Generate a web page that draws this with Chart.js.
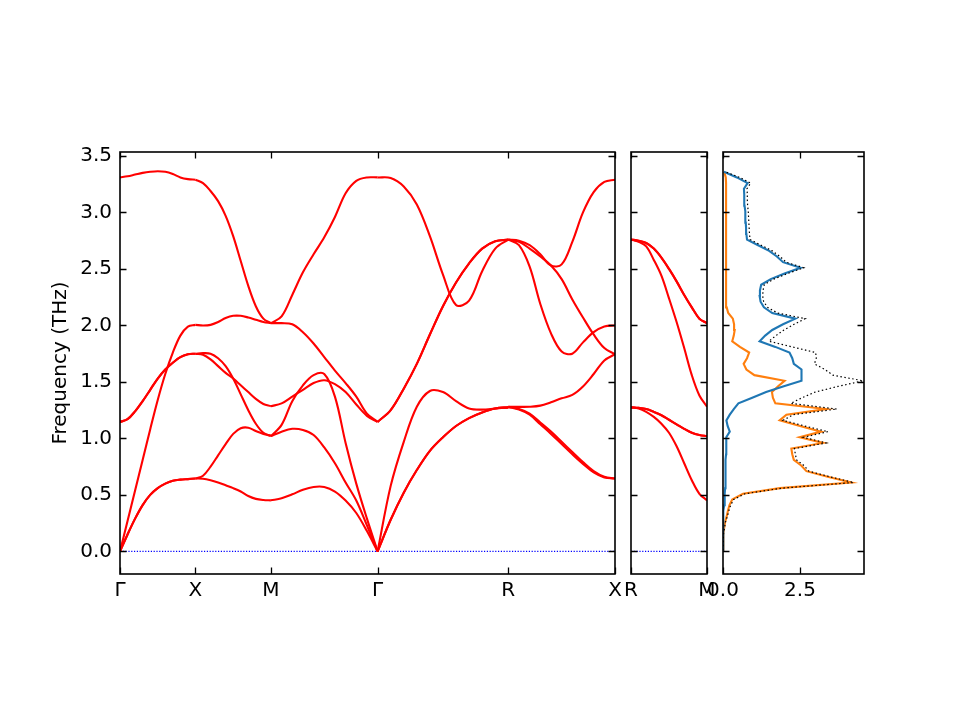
<!DOCTYPE html>
<html>
<head>
<meta charset="utf-8">
<script src="https://cdn.jsdelivr.net/npm/chart.js@4.4.1/dist/chart.umd.min.js"></script>
<style>
  html, body { margin: 0; padding: 0; background: #fff; }
  #wrap { position: relative; width: 960px; height: 720px; }
  #wrap canvas { position: absolute; left: 0; top: 0; }
</style>
</head>
<body>
<div id="wrap">
  <canvas id="bands" width="960" height="720"></canvas>
  <canvas id="bandsRM" width="960" height="720"></canvas>
  <canvas id="dos" width="960" height="720"></canvas>
</div>
<script>
// high-symmetry path and ticks
const kLabels = ["Γ", "X", "M", "Γ", "R", "X"];
const kPos = [0, 1, 2, 3.414, 5.146, 6.560];
const rmLabels = ["R", "M"];
const rmPos = [0, 1];
const freqTicks = [0, 0.5, 1, 1.5, 2, 2.5, 3, 3.5];
const dosTicks = [0, 2.5];
const dosTickLabels = ["0.0", "2.5"];

// fraction along each segment
const t = [0, 0.1, 0.2, 0.3, 0.4, 0.5, 0.6, 0.7, 0.8, 0.9, 1];

// band frequencies (THz) per segment
const bandsGX = [
  [0, 0.15, 0.29, 0.41, 0.50, 0.56, 0.60, 0.625, 0.635, 0.64, 0.645],
  [0, 0.15, 0.29, 0.41, 0.50, 0.56, 0.60, 0.625, 0.635, 0.64, 0.645],
  [0, 0.27, 0.54, 0.81, 1.08, 1.34, 1.57, 1.76, 1.91, 1.99, 2.005],
  [1.146, 1.17, 1.24, 1.33, 1.43, 1.53, 1.61, 1.67, 1.72, 1.745, 1.75],
  [1.146, 1.17, 1.24, 1.33, 1.43, 1.53, 1.61, 1.67, 1.72, 1.745, 1.75],
  [3.31, 3.32, 3.335, 3.35, 3.36, 3.365, 3.36, 3.34, 3.31, 3.295, 3.29]
];
const bandsXM = [
  [0.645, 0.643, 0.63, 0.61, 0.585, 0.56, 0.53, 0.49, 0.465, 0.455, 0.452],
  [0.645, 0.67, 0.75, 0.85, 0.95, 1.04, 1.09, 1.095, 1.065, 1.04, 1.025],
  [1.75, 1.755, 1.75, 1.71, 1.64, 1.53, 1.39, 1.25, 1.13, 1.05, 1.02],
  [1.75, 1.74, 1.70, 1.64, 1.58, 1.53, 1.47, 1.41, 1.35, 1.305, 1.285],
  [2.005, 2.0, 2.005, 2.03, 2.065, 2.085, 2.085, 2.07, 2.05, 2.03, 2.02],
  [3.29, 3.26, 3.19, 3.10, 2.97, 2.79, 2.57, 2.35, 2.17, 2.06, 2.02]
];
const bandsMG = [
  [0.452, 0.47, 0.505, 0.545, 0.57, 0.57, 0.53, 0.45, 0.34, 0.18, 0],
  [1.02, 1.06, 1.085, 1.075, 1.03, 0.92, 0.78, 0.61, 0.45, 0.23, 0],
  [1.02, 1.12, 1.33, 1.47, 1.56, 1.57, 1.37, 0.96, 0.60, 0.29, 0],
  [1.285, 1.31, 1.37, 1.43, 1.49, 1.515, 1.48, 1.41, 1.30, 1.20, 1.146],
  [2.02, 2.02, 2.01, 1.94, 1.84, 1.72, 1.60, 1.49, 1.37, 1.22, 1.146],
  [2.02, 2.08, 2.27, 2.47, 2.63, 2.78, 2.96, 3.17, 3.28, 3.31, 3.31]
];
const bandsGR = [
  [0, 0.28, 0.52, 0.72, 0.89, 1.01, 1.11, 1.18, 1.23, 1.265, 1.275],
  [0, 0.28, 0.52, 0.72, 0.89, 1.01, 1.11, 1.18, 1.23, 1.265, 1.275],
  [0, 0.58, 0.97, 1.28, 1.42, 1.41, 1.33, 1.265, 1.255, 1.265, 1.275],
  [1.146, 1.25, 1.44, 1.66, 1.92, 2.17, 2.38, 2.55, 2.68, 2.745, 2.76],
  [1.146, 1.25, 1.44, 1.66, 1.92, 2.17, 2.38, 2.55, 2.68, 2.745, 2.76],
  [3.31, 3.305, 3.23, 3.07, 2.79, 2.45, 2.18, 2.22, 2.48, 2.68, 2.76]
];
const bandsRX = [
  [1.279, 1.26, 1.22, 1.14, 1.06, 0.97, 0.88, 0.79, 0.71, 0.66, 0.645],
  [1.279, 1.255, 1.21, 1.125, 1.04, 0.95, 0.86, 0.775, 0.70, 0.655, 0.645],
  [1.279, 1.279, 1.28, 1.29, 1.32, 1.355, 1.385, 1.46, 1.57, 1.69, 1.745],
  [2.76, 2.71, 2.52, 2.19, 1.93, 1.77, 1.75, 1.85, 1.94, 1.99, 2.00],
  [2.76, 2.74, 2.68, 2.61, 2.53, 2.41, 2.23, 2.07, 1.92, 1.80, 1.745],
  [2.76, 2.75, 2.71, 2.63, 2.53, 2.54, 2.74, 3.00, 3.18, 3.27, 3.29]
];
const bandsRM = [
  [2.76, 2.75, 2.73, 2.68, 2.60, 2.50, 2.39, 2.27, 2.16, 2.06, 2.02],
  [2.76, 2.75, 2.73, 2.68, 2.60, 2.50, 2.39, 2.27, 2.16, 2.06, 2.02],
  [2.76, 2.74, 2.70, 2.58, 2.44, 2.24, 2.03, 1.80, 1.56, 1.38, 1.28],
  [1.275, 1.27, 1.26, 1.235, 1.205, 1.165, 1.125, 1.085, 1.05, 1.03, 1.02],
  [1.275, 1.27, 1.26, 1.235, 1.205, 1.165, 1.125, 1.085, 1.05, 1.03, 1.02],
  [1.275, 1.265, 1.235, 1.19, 1.13, 1.05, 0.93, 0.78, 0.63, 0.51, 0.452]
];

// density of states
const dosFreq = [
  0.01, 0.06, 0.11, 0.16, 0.21, 0.26, 0.31, 0.36, 0.41, 0.46,
  0.51, 0.56, 0.61, 0.66, 0.71, 0.76, 0.81, 0.86, 0.91, 0.96,
  1.01, 1.06, 1.11, 1.16, 1.21, 1.26, 1.31, 1.36, 1.41, 1.46,
  1.51, 1.56, 1.61, 1.66, 1.71, 1.76, 1.81, 1.86, 1.91, 1.96,
  2.01, 2.06, 2.11, 2.16, 2.21, 2.26, 2.31, 2.36, 2.41, 2.46,
  2.51, 2.56, 2.61, 2.66, 2.71, 2.76, 2.81, 2.86, 2.91, 2.96,
  3.01, 3.06, 3.11, 3.16, 3.21, 3.26, 3.31, 3.36
];
const dosA = [ // orange
  0, 0.01, 0.01, 0.02, 0.04, 0.07, 0.12, 0.16, 0.21, 0.30,
  0.65, 1.85, 4.17, 3.40, 2.71, 2.54, 2.30, 2.25, 2.22, 3.25,
  2.49, 3.19, 2.50, 1.84, 2.06, 3.35, 1.70, 1.62, 1.59, 1.78,
  2.00, 1.02, 0.76, 0.67, 0.78, 0.85, 0.55, 0.30, 0.35, 0.38,
  0.36, 0.32, 0.17, 0.12, 0.10, 0.10, 0.10, 0.10, 0.10, 0.10,
  0.10, 0.10, 0.10, 0.10, 0.10, 0.10, 0.10, 0.10, 0.10, 0.10,
  0.10, 0.10, 0.10, 0.10, 0.10, 0.10, 0.09, 0.04
];
const dosB = [ // blue
  0, 0, 0, 0, 0.01, 0.01, 0.02, 0.03, 0.04, 0.05,
  0.06, 0.07, 0.07, 0.08, 0.08, 0.09, 0.09, 0.10, 0.10, 0.10,
  0.12, 0.22, 0.15, 0.11, 0.22, 0.35, 0.50, 0.95, 1.40, 1.95,
  2.55, 2.55, 2.55, 2.30, 2.25, 2.16, 1.70, 1.19, 1.37, 1.60,
  1.95, 2.35, 1.60, 1.33, 1.22, 1.19, 1.20, 1.24, 1.55, 2.00,
  2.52, 1.95, 1.75, 1.50, 1.14, 0.78, 0.76, 0.75, 0.74, 0.73,
  0.72, 0.70, 0.69, 0.69, 0.68, 0.80, 0.45, 0.03
];
const dosTotal = [
  0, 0.01, 0.01, 0.02, 0.05, 0.08, 0.14, 0.19, 0.25, 0.35,
  0.71, 1.92, 4.24, 3.48, 2.79, 2.63, 2.39, 2.35, 2.32, 3.35,
  2.61, 3.41, 2.65, 1.95, 2.28, 3.70, 2.20, 2.57, 2.99, 3.73,
  4.55, 3.57, 3.31, 2.97, 3.03, 3.01, 2.25, 1.49, 1.72, 1.98,
  2.31, 2.67, 1.77, 1.45, 1.32, 1.29, 1.30, 1.34, 1.65, 2.10,
  2.62, 2.05, 1.85, 1.60, 1.24, 0.88, 0.86, 0.85, 0.84, 0.83,
  0.82, 0.80, 0.79, 0.79, 0.78, 0.90, 0.54, 0.07
];

const yMin = -0.2, yMax = 3.535, dosMax = 4.58;

Chart.defaults.font.family = "'DejaVu Sans', sans-serif";
Chart.defaults.font.size = 20;
Chart.defaults.color = "#000";

// frame + inward ticks on all four sides (matplotlib look)
function framePlugin() {
  return {
    id: "frame",
    afterDatasetsDraw(chart) {
      const { ctx, chartArea: a, scales } = chart;
      const len = 6.5;
      ctx.save();
      ctx.strokeStyle = "#000";
      ctx.lineWidth = 1.3;
      ctx.beginPath();
      scales.x.ticks.forEach(tk => {
        const px = Math.round(scales.x.getPixelForValue(tk.value)) + 0.5;
        ctx.moveTo(px, a.bottom); ctx.lineTo(px, a.bottom - len);
        ctx.moveTo(px, a.top); ctx.lineTo(px, a.top + len);
      });
      scales.y.ticks.forEach(tk => {
        const py = Math.round(scales.y.getPixelForValue(tk.value)) + 0.5;
        ctx.moveTo(a.left, py); ctx.lineTo(a.left + len, py);
        ctx.moveTo(a.right, py); ctx.lineTo(a.right - len, py);
      });
      ctx.stroke();
      ctx.lineWidth = 1.6;
      ctx.strokeRect(a.left, a.top, a.right - a.left, a.bottom - a.top);
      ctx.restore();
    }
  };
}

function bandDatasets(segs, pos) {
  const out = [];
  // dotted zero line (listed first so the bands draw over it)
  out.push({
    data: [{ x: pos[0], y: 0 }, { x: pos[pos.length - 1], y: 0 }],
    borderColor: "#0000ff",
    borderWidth: 1.1,
    borderDash: [1.2, 1.6],
    pointRadius: 0,
    fill: false,
    order: 1
  });
  segs.forEach((bands, s) => {
    const x0 = pos[s], x1 = pos[s + 1];
    bands.forEach(b => {
      out.push({
        data: t.map((q, j) => ({ x: x0 + q * (x1 - x0), y: b[j] })),
        borderColor: "#ff0000",
        borderWidth: 2.1,
        pointRadius: 0,
        tension: 0.35,
        fill: false,
        order: 0
      });
    });
  });
  return out;
}

function yAxis(showLabels, width, title) {
  return {
    type: "linear",
    min: yMin,
    max: yMax,
    grid: { display: false, drawTicks: false },
    border: { display: false },
    afterBuildTicks: s => { s.ticks = freqTicks.map(v => ({ value: v })); },
    afterFit: s => { s.width = width; },
    ticks: {
      display: showLabels,
      padding: 8,
      autoSkip: false,
      callback: v => v.toFixed(1)
    },
    title: title ? { display: true, text: title, padding: 0 } : { display: false }
  };
}

function xAxis(min, max, pos, labels) {
  return {
    type: "linear",
    min: min,
    max: max,
    grid: { display: false, drawTicks: false },
    border: { display: false },
    afterBuildTicks: s => { s.ticks = pos.map(v => ({ value: v })); },
    afterFit: s => { s.height = 34; },
    ticks: {
      padding: 5,
      autoSkip: false,
      maxRotation: 0,
      callback: (v, i) => labels[i]
    }
  };
}

function baseOptions(padding, xScale, yScale) {
  return {
    responsive: false,
    animation: false,
    devicePixelRatio: 1,
    layout: { padding: padding },
    plugins: { legend: { display: false }, tooltip: { enabled: false } },
    scales: { x: xScale, y: yScale }
  };
}

// main band structure
new Chart(document.getElementById("bands"), {
  type: "line",
  data: { datasets: bandDatasets([bandsGX, bandsXM, bandsMG, bandsGR, bandsRX], kPos) },
  options: baseOptions(
    { left: 49, right: 345, top: 152, bottom: 112 },
    xAxis(kPos[0], kPos[kPos.length - 1], kPos, kLabels),
    yAxis(true, 71, "Frequency (THz)")
  ),
  plugins: [framePlugin()]
});

// R-M branch
new Chart(document.getElementById("bandsRM"), {
  type: "line",
  data: { datasets: bandDatasets([bandsRM], rmPos) },
  options: baseOptions(
    { left: 631, right: 253, top: 152, bottom: 112 },
    xAxis(rmPos[0], rmPos[1], rmPos, rmLabels),
    yAxis(false, 0, null)
  ),
  plugins: [framePlugin()]
});

// DOS panel
function dosSet(vals, color, width, dash) {
  return {
    data: dosFreq.map((f, i) => ({ x: vals[i], y: f })),
    borderColor: color,
    borderWidth: width,
    borderDash: dash,
    pointRadius: 0,
    tension: 0,
    fill: false,
    showLine: true
  };
}
new Chart(document.getElementById("dos"), {
  type: "scatter",
  data: {
    datasets: [
      dosSet(dosTotal, "#000000", 1.2, [1.5, 2.5]),
      dosSet(dosB, "#1f77b4", 2.1, []),
      dosSet(dosA, "#ff7f0e", 2.1, [])
    ]
  },
  options: baseOptions(
    { left: 723, right: 96, top: 152, bottom: 112 },
    xAxis(0, dosMax, dosTicks, dosTickLabels),
    yAxis(false, 0, null)
  ),
  plugins: [framePlugin()]
});
</script>
</body>
</html>
